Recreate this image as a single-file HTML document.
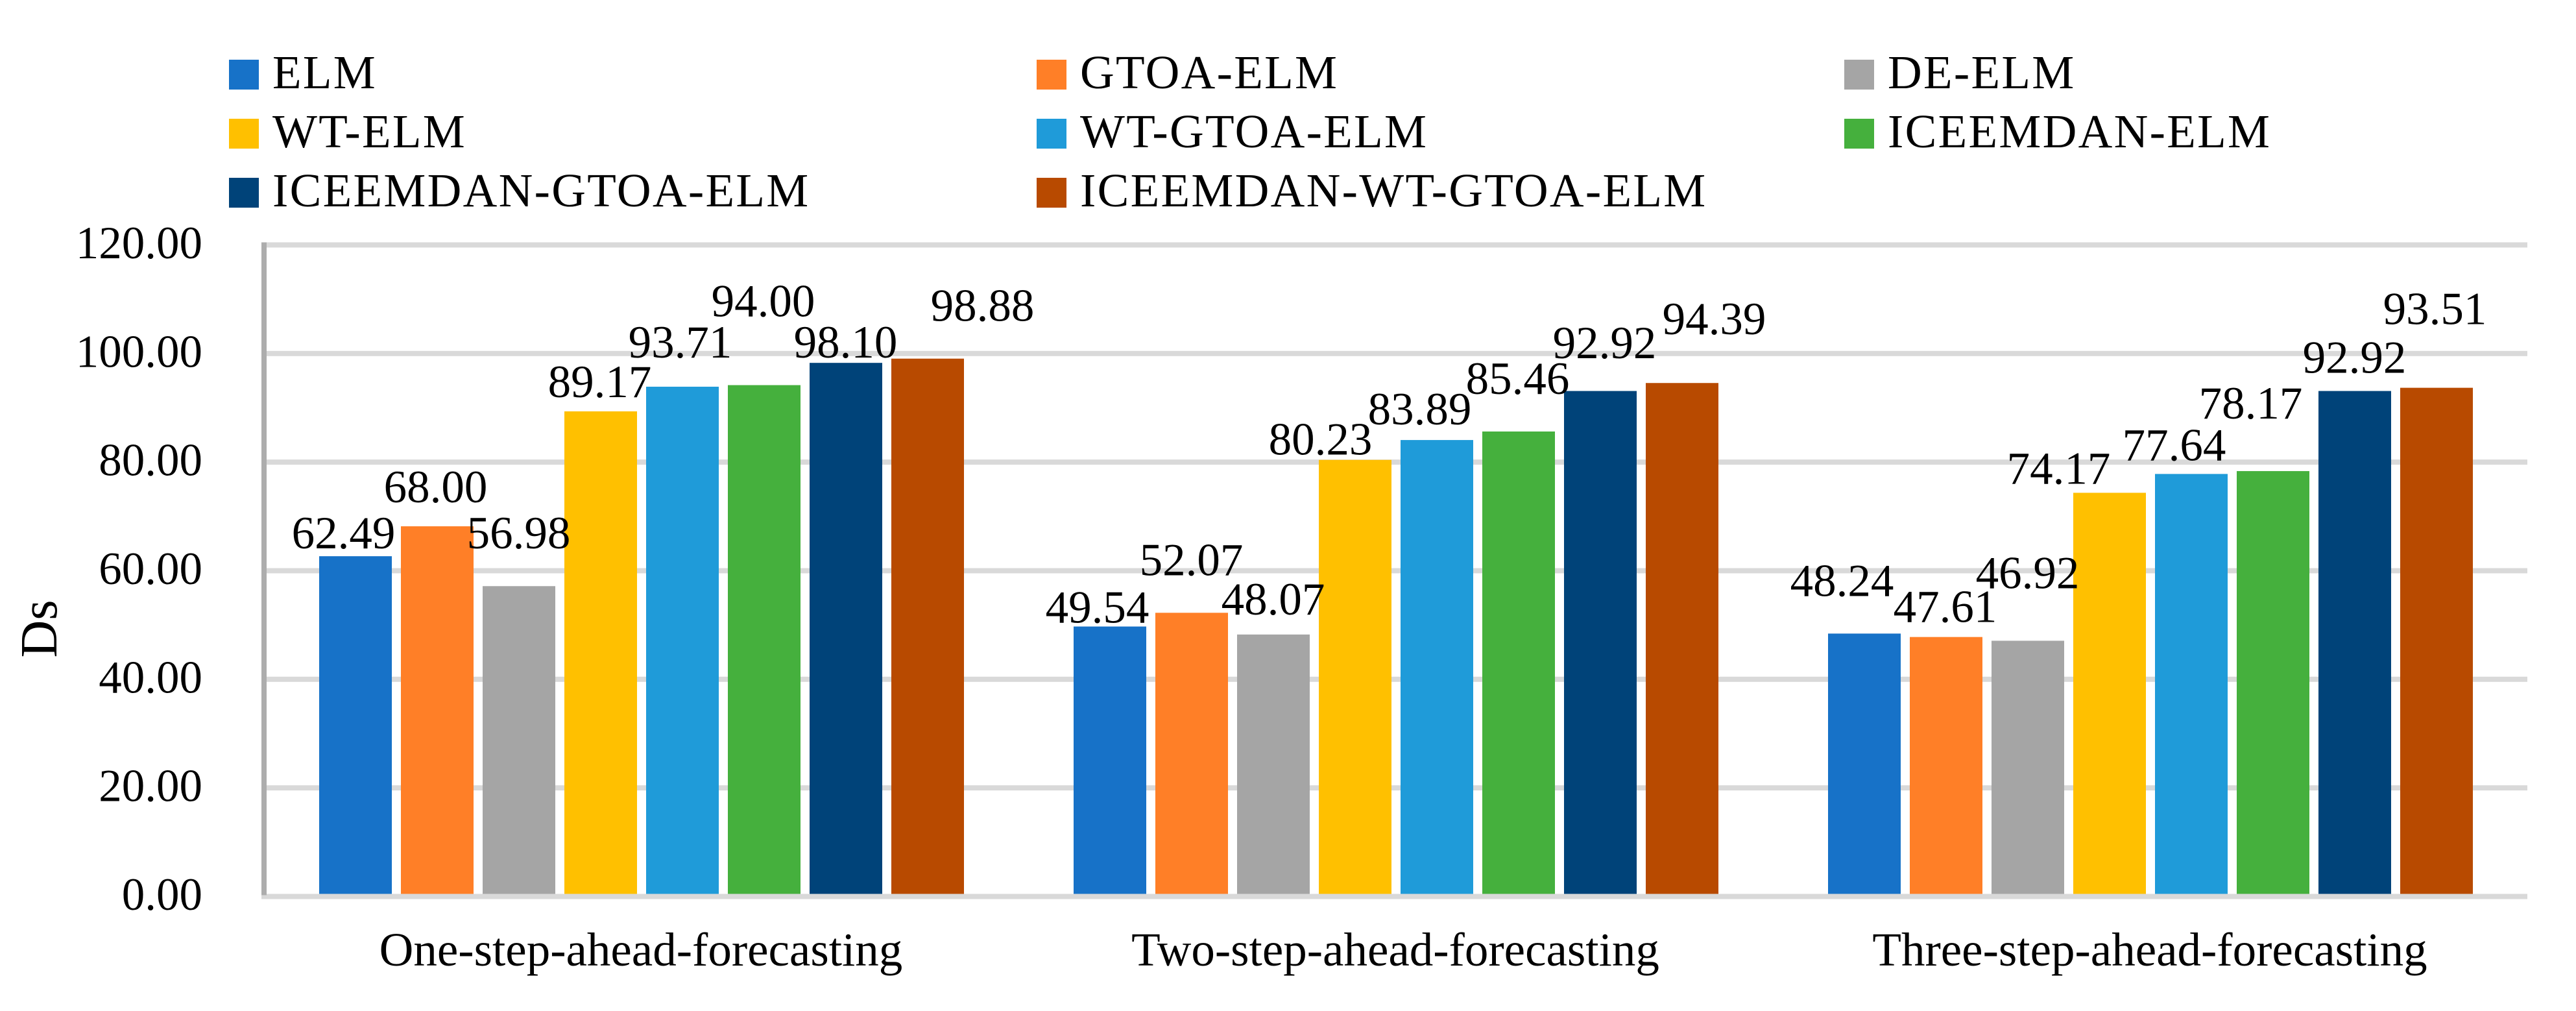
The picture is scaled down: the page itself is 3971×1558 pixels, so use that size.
<!DOCTYPE html>
<html lang="en">
<head>
<meta charset="utf-8">
<title>Ds by forecasting horizon</title>
<style>
  html, body { margin: 0; padding: 0; background: #ffffff; }
  body { width: 3971px; height: 1558px; overflow: hidden; }
  svg { display: block; font-family: "Liberation Serif", serif; fill: #000000; }
  .tick, .value { font-size: 71px; }
  .category { font-size: 73px; text-anchor: middle; }
  .legend-text { font-size: 73px; letter-spacing: 2.3px; }
  .axis-title { font-size: 80px; text-anchor: middle; }
</style>
</head>
<body>
<svg id="chart" xmlns="http://www.w3.org/2000/svg" width="3971" height="1558" viewBox="0 0 3971 1558"></svg>
<script>
// Chart data
const categories = ['One-step-ahead-forecasting', 'Two-step-ahead-forecasting', 'Three-step-ahead-forecasting'];
const seriesNames = ['ELM', 'GTOA-ELM', 'DE-ELM', 'WT-ELM', 'WT-GTOA-ELM', 'ICEEMDAN-ELM', 'ICEEMDAN-GTOA-ELM', 'ICEEMDAN-WT-GTOA-ELM'];
const elmValues = [62.49, 49.54, 48.24];
const gtoaElmValues = [68.00, 52.07, 47.61];
const deElmValues = [56.98, 48.07, 46.92];
const wtElmValues = [89.17, 80.23, 74.17];
const wtGtoaElmValues = [93.71, 83.89, 77.64];
const iceemdanElmValues = [94.00, 85.46, 78.17];
const iceemdanGtoaElmValues = [98.10, 92.92, 92.92];
const iceemdanWtGtoaElmValues = [98.88, 94.39, 93.51];
const yTicks = [0, 20, 40, 60, 80, 100, 120];
const yAxisTitle = 'Ds';

const seriesValues = [elmValues, gtoaElmValues, deElmValues, wtElmValues, wtGtoaElmValues, iceemdanElmValues, iceemdanGtoaElmValues, iceemdanWtGtoaElmValues];

// Styling and layout (not data)
const seriesColors = ['#1772c8', '#ff7f27', '#a5a5a5', '#ffc000', '#1f9bd9', '#45b03d', '#004379', '#b84a00'];
// Hand-placed data label offsets [dx, dy] from the bar's top centre, one row per category.
const labelNudges = [
  [[-18.5,-12],[-2.5,-37],[-0.5,-58],[-1.5,-22],[-3.5,-45],[-1.5,-106],[-0.5,-8],[84.5,-58]],
  [[-19.5,-6],[-0.5,-58],[-0.5,-31],[-53.5,-8],[-26.5,-24],[-1.5,-58],[6.5,-50.5],[49.5,-75]],
  [[-34.5,-58],[-1.5,-23],[-0.5,-81],[-78.5,-14],[-26.5,-21],[-34.5,-81],[-0.5,-28],[-2.5,-98]]
];

const SVG_NS = 'http://www.w3.org/2000/svg';
const svg = document.getElementById('chart');
const plotLeft = 407;
const plotRight = 3896;
const zeroY = 1381.5;
const pxPerUnit = 8.367;
const barBottom = 1380;
const barWidth = 112;
const barStep = 126;
const groupStep = (plotRight - plotLeft) / categories.length;

function yPos(v) { return zeroY - v * pxPerUnit; }
function groupCenter(i) { return plotLeft + groupStep * (i + 0.5) + 0.5; }
function barCenter(i, k) { return groupCenter(i) + (k - (seriesNames.length - 1) / 2) * barStep; }
function barTop(v) { return barBottom - v * pxPerUnit; }

function make(tag, attrs, text) {
  const el = document.createElementNS(SVG_NS, tag);
  for (const key in attrs) el.setAttribute(key, attrs[key]);
  if (text !== undefined) el.textContent = text;
  svg.appendChild(el);
  return el;
}

// Gridlines (drawn first, bars sit on top)
yTicks.forEach(function (t) {
  if (t === 0) return;
  const line = make('rect', { x: 411, y: yPos(t) - 4, width: plotRight - 411, height: 8, fill: '#d9d9d9' });
  
  
});

// Bars
categories.forEach(function (cat, i) {
  seriesValues.forEach(function (values, k) {
    const v = values[i];
    const bar = make('rect', { x: barCenter(i, k) - barWidth / 2, y: barTop(v), width: barWidth, height: barBottom - barTop(v), fill: seriesColors[k] });
    
    
  });
});

// Axes
const xAxisLine = make('rect', { x: 403, y: yPos(0) - 4, width: plotRight - 403, height: 8, fill: '#d9d9d9' });


const yAxisLine = make('rect', { x: 403, y: yPos(120) - 4, width: 8, height: yPos(0) - yPos(120) + 2, fill: '#adadad' });



// Y tick labels
yTicks.forEach(function (t) {
  const label = make('text', { x: 312, y: yPos(t) + 20.5, 'text-anchor': 'end', class: 'tick' }, t.toFixed(2));
  
  
});

// Category labels
categories.forEach(function (cat, i) {
  const label = make('text', { x: groupCenter(i) - 1, y: 1488, class: 'category' }, cat);
  
  
});

// Y axis title
const yTitle = make('text', { x: 87, y: 969, class: 'axis-title', transform: 'rotate(-90 87 969)' }, yAxisTitle);



// Data labels
categories.forEach(function (cat, i) {
  seriesValues.forEach(function (values, k) {
    const v = values[i];
    const nudge = labelNudges[i][k];
    const label = make('text', { x: barCenter(i, k) + nudge[0], y: barTop(v) + nudge[1], 'text-anchor': 'middle', class: 'value' }, v.toFixed(2));
    
    
  });
});

// Legend
const legendColumnLeft = 353;
const legendColumnStep = 1245;
const legendRowTop = 92;
const legendRowStep = 91;
seriesNames.forEach(function (name, k) {
  const col = k % 3;
  const row = Math.floor(k / 3);
  const sx = legendColumnLeft + col * legendColumnStep;
  const sy = legendRowTop + row * legendRowStep;
  const swatch = make('rect', { x: sx, y: sy, width: 46, height: 46, fill: seriesColors[k] });
  
  
  const text = make('text', { x: sx + 67, y: sy + 44, class: 'legend-text' }, name);
  
  
});
</script>
</body>
</html>
